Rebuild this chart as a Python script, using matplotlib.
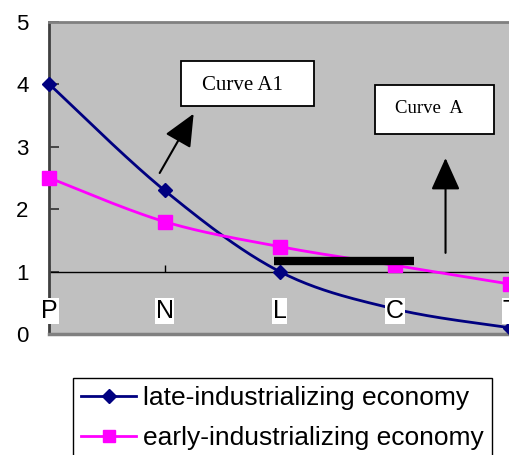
import numpy as np
import matplotlib
matplotlib.use("Agg")
import matplotlib.pyplot as plt
from matplotlib.lines import Line2D
from matplotlib.patches import Rectangle

plt.rcParams["font.family"] = ["Liberation Sans", "DejaVu Sans"]

# data
categories = ["P", "N", "L", "C", "T"]
late = [4.0, 2.3, 1.0, 0.4, 0.1]
early = [2.5, 1.8, 1.4, 1.1, 0.8]
late_name = "late-industrializing economy"
early_name = "early-industrializing economy"
y_ticks = [0, 1, 2, 3, 4, 5]

NAVY = "#000080"
MAGENTA = "#FF00FF"
PLOT_BG = "#C0C0C0"


def smooth(xs, ys, n=40):
    # Excel-like smoothed line: Bezier segments with Catmull-Rom control points
    pts = np.column_stack([xs, ys]).astype(float)
    out = []
    t = np.linspace(0, 1, n)[:, None]
    for i in range(len(pts) - 1):
        p0 = pts[i - 1] if i > 0 else pts[i]
        p1, p2 = pts[i], pts[i + 1]
        p3 = pts[i + 2] if i + 2 < len(pts) else pts[i + 1]
        c1 = p1 + (p2 - p0) / 6
        c2 = p2 - (p3 - p1) / 6
        seg = ((1 - t) ** 3) * p1 + 3 * ((1 - t) ** 2) * t * c1 \
            + 3 * (1 - t) * t ** 2 * c2 + t ** 3 * p2
        out.append(seg if i == 0 else seg[1:])
    seg = np.vstack(out)
    return seg[:, 0], seg[:, 1]


W, H = 510, 455
fig = plt.figure(figsize=(W / 100, H / 100), dpi=100)
ax = fig.add_axes([49.5 / W, 121 / H, 460.5 / W, 312 / H])
ax.set_facecolor(PLOT_BG)

x = np.arange(len(categories))
ax.set_xlim(0, len(categories) - 1)
ax.set_ylim(0, 5)

# category axis crosses at y = 1
ax.axhline(1, color="black", lw=1.0, zorder=2)
ax.vlines(x, 1, 1.11, color="black", lw=1.0, zorder=2)

lx, ly = smooth(x, late)
ax.plot(lx, ly, color=NAVY, lw=2.0, zorder=3)
ax.plot(x, late, ls="none", marker="D", ms=7.5, color=NAVY, zorder=4,
        clip_on=False)

ex, ey = smooth(x, early)
ax.plot(ex, ey, color=MAGENTA, lw=2.0, zorder=5)
ax.plot(x, early, ls="none", marker="s", ms=10, color=MAGENTA, zorder=6,
        clip_on=False)

# thick black bar
ax.plot([1.95, 3.17], [1.17, 1.17], color="black", lw=6,
        solid_capstyle="butt", zorder=7)

# category labels on white patches
for xi, lab in zip(x, categories):
    ax.text(xi, 0.37, lab, ha="center", va="center", fontsize=18,
            zorder=8, clip_on=False,
            bbox=dict(facecolor="white", edgecolor="none", pad=0.5))

# annotation boxes
serif = ["Liberation Serif", "DejaVu Serif"]
ax.add_patch(Rectangle((1.139, 3.654), 1.157, 0.721, facecolor="white",
                       edgecolor="black", lw=1.3, zorder=8))
ax.text(1.68, 3.99, "Curve A1", family=serif, fontsize=15,
        ha="center", va="center", zorder=9)
ax.add_patch(Rectangle((2.826, 3.205), 1.035, 0.785, facecolor="white",
                       edgecolor="black", lw=1.3, zorder=8))
ax.text(3.30, 3.62, "Curve  A", family=serif, fontsize=13.5,
        ha="center", va="center", zorder=9)

arrow = dict(arrowstyle="-|>,head_length=1.0,head_width=0.45",
             mutation_scale=20, color="black", lw=1.5, shrinkA=0, shrinkB=0)
ax.annotate("", xy=(1.252, 3.53), xytext=(0.957, 2.58), arrowprops=arrow,
            zorder=9)
ax.annotate("", xy=(3.44, 2.82), xytext=(3.44, 1.30), arrowprops=arrow,
            zorder=9)

# axes styling
ax.set_xticks([])
ax.set_yticks(y_ticks)
ax.tick_params(axis="y", direction="in", length=7, width=1.2, pad=15,
               labelsize=16, color="#303030")
ax.spines["right"].set_visible(False)
ax.spines["top"].set_color("#808080")
ax.spines["top"].set_linewidth(2)
ax.spines["bottom"].set_color("#808080")
ax.spines["bottom"].set_linewidth(2.5)
ax.spines["left"].set_color("#404040")
ax.spines["left"].set_linewidth(2)

handles = [
    Line2D([], [], color=NAVY, lw=2, marker="D", ms=7.5, label=late_name),
    Line2D([], [], color=MAGENTA, lw=2, marker="s", ms=9, label=early_name),
]
leg = fig.legend(handles=handles, loc="upper left",
                 bbox_to_anchor=(73 / W, 1 - 378 / H), fontsize=19,
                 frameon=True, fancybox=False, framealpha=1,
                 edgecolor="black", handlelength=2.1, handletextpad=0.25,
                 borderpad=0.3, labelspacing=0.6, borderaxespad=0)
leg.get_frame().set_linewidth(1.0)

fig.savefig("out.png", dpi=100)
